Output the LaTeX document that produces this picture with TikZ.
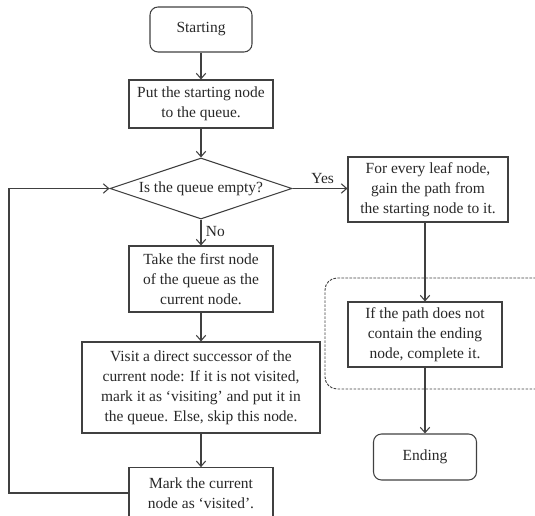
\documentclass[tikz,border=0pt]{standalone}
\usepackage{fontspec}
\setmainfont{Liberation Serif}
\usepackage{xcolor}
\usetikzlibrary{shapes.geometric,arrows.meta}
\definecolor{flowline}{RGB}{64, 64, 64}
\definecolor{flowtext}{RGB}{40, 40, 40}

\tikzset{
  flowbase/.style={draw=flowline, line width=0.8pt, inner sep=0pt, align=center,
    text=flowtext, font=\fontsize{11.6}{15}\selectfont},
  procbox/.style={flowbase, rectangle},
  termbox/.style={flowbase, rectangle, rounded corners=6pt},
  decbox/.style={flowbase, diamond, aspect=3},
  groupbox/.style={draw=flowline, line width=0.7pt, dash pattern=on 2pt off 1pt, rounded corners=9pt},
  flowarrow/.style={draw=flowline, line width=0.8pt, -{Straight Barb[length=4pt,width=7pt]}},
  flowlabel/.style={text=flowtext, font=\fontsize{11.6}{15}\selectfont}
}

\begin{document}
\begin{tikzpicture}[x=0.75pt, y=-0.75pt]
\useasboundingbox (0,0) rectangle (535,516);
\clip (0,0) rectangle (535,516);

% left column
\node[termbox, minimum width=76.5pt, minimum height=33.75pt] (start) at (201,29.5) {Starting};
\node[procbox, minimum width=108pt, minimum height=36pt] (put) at (201,104) {Put the starting node\\to the queue.};
\node[decbox, minimum width=136.5pt, minimum height=45.75pt] (queue) at (201,188.5) {Is the queue empty?};
\node[procbox, minimum width=108pt, minimum height=49.5pt] (take) at (201,279) {Take the first node\\of the queue as the\\current node.};
\node[procbox, minimum width=178.5pt, minimum height=68.25pt] (visit) at (201,387.5) {Visit a direct successor of the\\current node: If it is not visited,\\mark it as `visiting' and put it in\\the queue. Else, skip this node.};
\node[procbox, minimum width=108pt, minimum height=38pt] (mark) at (201,493) {Mark the current\\node as `visited'.};

% right column
\node[procbox, minimum width=120pt, minimum height=48.75pt] (leaf) at (428,189.5) {For every leaf node,\\gain the path from\\the starting node to it.};
\node[groupbox, minimum width=167.25pt, minimum height=83.25pt] (group) at (436.5,333.5) {};
\node[procbox, minimum width=115.5pt, minimum height=48.75pt] (complete) at (425,334.5) {If the path does not\\contain the ending\\node, complete it.};
\node[termbox, minimum width=77.25pt, minimum height=34.5pt] (ending) at (425,457) {Ending};

\coordinate (loopcorner) at (9,0);

% connectors
\draw[flowarrow] (start) -- (put);
\draw[flowarrow] (put) -- (queue);
\draw[flowarrow] (queue) -- node[flowlabel, right, pos=0.45] (no) {No} (take);
\draw[flowarrow] (take) -- (visit);
\draw[flowarrow] (visit) -- (mark);
\draw[flowarrow] (mark.west) -- (mark.west -| loopcorner) |- (queue.west);
\draw[flowarrow] (queue.east) -- node[flowlabel, above, pos=0.55] (yes) {Yes} (leaf.west |- queue.east);
\draw[flowarrow] (leaf.south -| complete.north) -- (complete.north);
\draw[flowarrow] (complete) -- (ending);
\end{tikzpicture}
\end{document}
